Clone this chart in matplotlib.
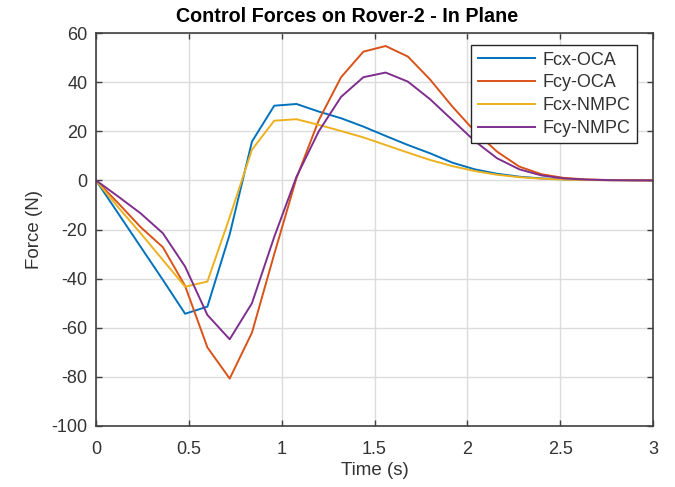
import matplotlib
matplotlib.use("Agg")
import matplotlib.pyplot as plt
import numpy as np

plt.rcParams['font.family'] = ['Liberation Sans', 'DejaVu Sans']
plt.rcParams['axes.unicode_minus'] = False

time_s = [0.0, 0.12, 0.24, 0.36, 0.48, 0.60, 0.72, 0.84, 0.96, 1.08, 1.20, 1.32,
          1.44, 1.56, 1.68, 1.80, 1.92, 2.04, 2.16, 2.28, 2.40, 2.52, 2.64, 2.76,
          2.88, 3.00]

fcx_oca = [0, -13.5, -27.0, -40.5, -54.3, -51.4, -22.0, 15.8, 30.4, 31.1, 28.0, 25.3,
           21.9, 18.1, 14.4, 11.0, 7.2, 4.5, 2.7, 1.5, 0.8, 0.4, 0.2, 0.1, 0.05, 0.0]
fcy_oca = [0, -9.3, -19.0, -27.2, -43.0, -68.0, -80.7, -62.0, -30.0, 1.0, 24.5, 42.0,
           52.4, 54.7, 50.4, 41.0, 30.0, 20.0, 11.7, 5.6, 2.5, 1.0, 0.4, 0.15, 0.05, 0.0]
fcx_nmpc = [0, -11.0, -21.5, -32.4, -43.3, -41.2, -15.0, 12.5, 24.3, 24.9, 22.6, 20.1,
            17.5, 14.4, 11.3, 8.3, 5.8, 3.8, 2.3, 1.3, 0.7, 0.3, 0.15, 0.05, 0.02, 0.0]
fcy_nmpc = [0, -6.6, -13.4, -21.5, -35.1, -54.8, -64.7, -50.0, -23.0, 1.5, 20.0, 34.0,
            42.0, 43.9, 40.2, 33.0, 24.5, 16.0, 9.0, 4.5, 2.0, 0.8, 0.3, 0.1, 0.03, 0.0]

series = [("Fcx-OCA", fcx_oca, "#0072BD"),
          ("Fcy-OCA", fcy_oca, "#D95319"),
          ("Fcx-NMPC", fcx_nmpc, "#EDB120"),
          ("Fcy-NMPC", fcy_nmpc, "#7E2F8E")]

fig = plt.figure(figsize=(6.75, 4.87), dpi=100)
ax = fig.add_axes([96/675, 1-426/487, (653-96)/675, (426-33)/487])

for name, vals, col in series:
    ax.plot(time_s, vals, color=col, lw=1.4, label=name)

ax.set_xlim(0, 3)
ax.set_ylim(-100, 60)
ax.set_xticks([0, 0.5, 1, 1.5, 2, 2.5, 3])
ax.set_xticklabels(["0", "0.5", "1", "1.5", "2", "2.5", "3"])
ax.set_yticks(np.arange(-100, 61, 20))
ax.grid(True, color="#dcdcdc", lw=1.0)
ax.set_axisbelow(True)
for s in ax.spines.values():
    s.set_color("#404040")
    s.set_linewidth(1.2)
ax.tick_params(direction="in", top=True, right=True, colors="#404040",
               labelsize=13, length=4, width=1.0)
ax.tick_params(axis="x", pad=11)
ax.tick_params(axis="y", pad=6)
for lab in ax.get_xticklabels() + ax.get_yticklabels():
    lab.set_color("#333333")
ax.set_xlabel("Time (s)", fontsize=13.5, color="#333333", labelpad=3)
ax.set_ylabel("Force (N)", fontsize=13.5, color="#333333", labelpad=6)
ax.text(0.45, 1.0 + 7/393, "Control Forces on Rover-2 - In Plane", transform=ax.transAxes,
        ha="center", va="bottom", fontsize=14.2, fontweight="bold", color="black")

leg = ax.legend(loc="upper right", bbox_to_anchor=(0.971, 0.969), borderaxespad=0,
                fancybox=False, edgecolor="#262626", fontsize=13, handlelength=3.2,
                borderpad=0.35, labelspacing=0.32, handletextpad=0.4, framealpha=1)
leg.get_frame().set_linewidth(1.0)
for t in leg.get_texts():
    t.set_color("#333333")

fig.savefig("out.png", dpi=100)
